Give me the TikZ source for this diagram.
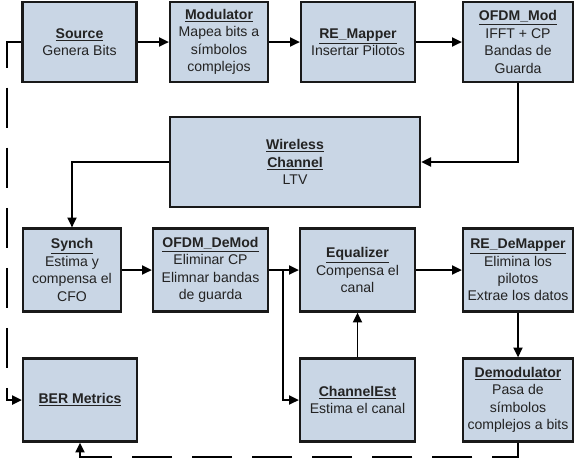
\documentclass[tikz,border=0pt]{standalone}
\usepackage{fontspec}
\setmainfont{Liberation Sans}
\usetikzlibrary{arrows.meta}
\definecolor{boxfill}{RGB}{201,214,229}
\definecolor{txtgray}{RGB}{35,35,35}
\newcommand{\btitle}[1]{\underline{\textbf{#1}}}
\begin{document}
\begin{tikzpicture}[x=0.025cm, y=-0.025cm,
    >={Triangle[length=7pt,width=6.5pt]},
    blk/.style={draw=black!90, line width=1.6pt, fill=boxfill, text=txtgray,
        align=center, inner sep=1pt, minimum height=2.075cm,
        font=\fontsize{10}{12.4}\selectfont},
    link/.style={line width=1.2pt, ->},
    fb/.style={line width=1.4pt, dash pattern=on 28.5pt off 14.2pt}]
    \useasboundingbox (0,0) rectangle (576,463);

    % Transmitter chain
    \node[blk, minimum width=2.85cm, minimum height=2cm] (Source) at (79.5,42) {\btitle{Source}\\Genera Bits};
    \node[blk, minimum width=2.45cm, minimum height=2cm] (Modulator) at (219,42) {\btitle{Modulator}\\Mapea bits a\\símbolos\\complejos};
    \node[blk, minimum width=2.85cm, minimum height=2cm] (REMapper) at (358,42) {\btitle{RE\_Mapper}\\Insertar Pilotos};
    \node[blk, minimum width=2.75cm, minimum height=2cm] (OFDMMod) at (518,42) {\btitle{OFDM\_Mod}\\IFFT + CP\\Bandas de\\Guarda};

    % Channel
    \node[blk, minimum width=6.25cm, minimum height=2.25cm] (Channel) at (295,162) {\btitle{Wireless}\\\btitle{Channel}\\LTV};

    % Receiver chain
    \node[blk, minimum width=2.45cm] (Synch) at (72,270) {\btitle{Synch}\\Estima y\\compensa el\\CFO};
    \node[blk, minimum width=2.875cm] (OFDMDeMod) at (210.5,270) {\btitle{OFDM\_DeMod}\\Eliminar CP\\Elimnar bandas\\de guarda};
    \node[blk, minimum width=2.875cm] (Equalizer) at (357.5,270) {\btitle{Equalizer}\\Compensa el\\canal};
    \node[blk, minimum width=2.75cm] (REDeMapper) at (518,270) {\btitle{RE\_DeMapper}\\Elimina los\\pilotos\\Extrae los datos};
    \node[blk, minimum width=2.875cm] (ChannelEst) at (357.5,400) {\btitle{ChannelEst}\\Estima el canal};
    \node[blk, minimum width=2.75cm] (Demodulator) at (518,400) {\btitle{Demodulator}\\Pasa de\\símbolos\\complejos a bits};
    \node[blk, minimum width=2.85cm] (BER) at (80,400) {\btitle{BER Metrics}};

    % Connections
    \draw[link] (Source) -- (Modulator);
    \draw[link] (Modulator) -- (REMapper);
    \draw[link] (REMapper) -- (OFDMMod);
    \draw[link] (OFDMMod.south) |- (Channel.east);
    \draw[link] (Channel.west) -| (Synch.north);
    \draw[link] (Synch) -- (OFDMDeMod);
    \draw[link] (OFDMDeMod) -- (Equalizer);
    \coordinate (split) at (283,270);
    \draw[link] (split) |- (ChannelEst.west);
    \draw[link] (ChannelEst) -- (Equalizer);
    \draw[link] (Equalizer) -- (REDeMapper);
    \draw[link] (REDeMapper) -- (Demodulator);

    % Feedback to BER
    \coordinate (fbL) at (7,42);
    \coordinate (fbB) at (80,457);
    \draw[fb, ->] (Source.west) -- (fbL) |- (BER.west);
    \draw[fb, ->] (Demodulator.south) |- (fbB) -- (BER.south);
\end{tikzpicture}
\end{document}
